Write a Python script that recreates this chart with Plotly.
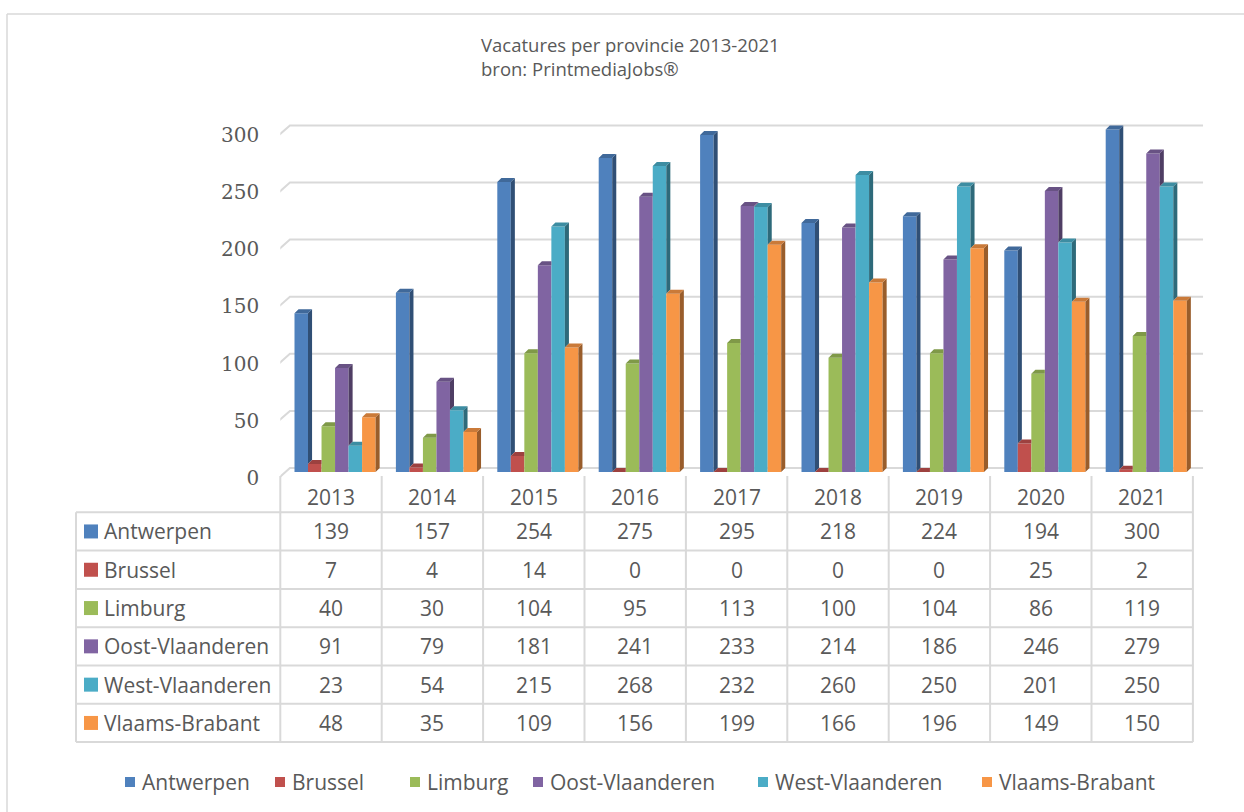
import plotly.graph_objects as go

# ---------------- data ----------------
years = ["2013", "2014", "2015", "2016", "2017", "2018", "2019", "2020", "2021"]
provinces = ["Antwerpen", "Brussel", "Limburg", "Oost-Vlaanderen", "West-Vlaanderen", "Vlaams-Brabant"]
antwerpen = [139, 157, 254, 275, 295, 218, 224, 194, 300]
brussel = [7, 4, 14, 0, 0, 0, 0, 25, 2]
limburg = [40, 30, 104, 95, 113, 100, 104, 86, 119]
oost_vlaanderen = [91, 79, 181, 241, 233, 214, 186, 246, 279]
west_vlaanderen = [23, 54, 215, 268, 232, 260, 250, 201, 250]
vlaams_brabant = [48, 35, 109, 156, 199, 166, 196, 149, 150]
y_ticks = [0, 50, 100, 150, 200, 250, 300]
title_lines = ["Vacatures per provincie 2013-2021", "bron: PrintmediaJobs®"]

series = [antwerpen, brussel, limburg, oost_vlaanderen, west_vlaanderen, vlaams_brabant]
colors = ["#4F81BD", "#C0504D", "#9BBB59", "#8064A2", "#4BACC6", "#F79646"]

# ---------------- geometry / style ----------------
W, H = 1244, 812
TEXT = "#595959"
GRID = "#D9D9D9"
X_RANGE = [-0.5, 8.62]
Y_RANGE = [-20, 330]
PX_LEFT, PX_PER_CAT = 280.3, 101.4
PX_ZERO, PX_PER_UNIT = 472.0, 1.142

x_dom = [PX_LEFT / W, (PX_LEFT + (X_RANGE[1] - X_RANGE[0]) * PX_PER_CAT) / W]
y_bot_px = PX_ZERO - Y_RANGE[0] * PX_PER_UNIT
y_top_px = PX_ZERO - Y_RANGE[1] * PX_PER_UNIT
y_dom = [1 - y_bot_px / H, 1 - y_top_px / H]

GROUP_START = -0.36
BAR_W = 0.1333
DX = 0.04   # depth in category units
DY = 3.5    # depth in value units

# legend key positions (px from left) along the bottom row
LEGEND_KEY_PX = [125, 275, 410, 533, 758, 982]
LEGEND_Y_PX = 782


def shade(hexcol, f):
    r, g, b = int(hexcol[1:3], 16), int(hexcol[3:5], 16), int(hexcol[5:7], 16)
    return "#%02x%02x%02x" % (int(r * f), int(g * f), int(b * f))


def px_x(p):
    return p / W


def px_y(p):
    return 1 - p / H


fig = go.Figure()

n = len(series)
for i, (name, vals, col) in enumerate(zip(provinces, series, colors)):
    off = GROUP_START + i * BAR_W
    fig.add_trace(go.Bar(
        x=list(range(len(years))), y=vals, name=name,
        offset=off, width=BAR_W,
        marker=dict(color=col, line=dict(width=0)),
        hoverinfo="skip", showlegend=False,
    ))
    sx, sy = [], []
    cx, cy = [], []
    for j, v in enumerate(vals):
        vn = series[i + 1][j] if i < n - 1 else 0
        xl = j + off
        xr = xl + BAR_W
        if v > vn:
            sx += [xr, xr, xr + DX, xr + DX, xr, None]
            sy += [vn, v, v + DY, vn + DY, vn, None]
        right = xr if (i < n - 1 and vn >= v + DY) else xr + DX
        cx += [xl, xl + DX, right, xr, xl, None]
        cy += [v, v + DY, v + DY, v, v, None]
    fig.add_trace(go.Scatter(x=sx, y=sy, mode="lines", fill="toself",
                             fillcolor=shade(col, 0.62), line=dict(width=0),
                             showlegend=False, hoverinfo="skip"))
    fig.add_trace(go.Scatter(x=cx, y=cy, mode="lines", fill="toself",
                             fillcolor=shade(col, 0.82), line=dict(width=0),
                             showlegend=False, hoverinfo="skip"))

shapes = []
for t in y_ticks:
    shapes.append(dict(type="path", xref="x", yref="y", layer="below",
                       path=f"M -0.513,{t - 5} L -0.405,{t + DY} L 8.6,{t + DY}",
                       line=dict(color=GRID, width=2)))

# ---------------- data table ----------------
TABLE_LEFT_PX = 76
ROW_TOP_PX = 512.3
ROW_H = 38.3
HEADER_TOP_PX = 476
n_rows = len(provinces)
table_bottom_px = ROW_TOP_PX + n_rows * ROW_H
right_px = PX_LEFT + len(years) * PX_PER_CAT

for k in range(n_rows + 1):
    yk = px_y(ROW_TOP_PX + k * ROW_H)
    shapes.append(dict(type="line", xref="paper", yref="paper",
                       x0=px_x(TABLE_LEFT_PX), x1=px_x(right_px), y0=yk, y1=yk,
                       line=dict(color=GRID, width=2)))
shapes.append(dict(type="line", xref="paper", yref="paper",
                   x0=px_x(TABLE_LEFT_PX), x1=px_x(TABLE_LEFT_PX),
                   y0=px_y(ROW_TOP_PX), y1=px_y(table_bottom_px),
                   line=dict(color=GRID, width=2)))
for k in range(len(years) + 1):
    xk = px_x(PX_LEFT + k * PX_PER_CAT)
    shapes.append(dict(type="line", xref="paper", yref="paper",
                       x0=xk, x1=xk, y0=px_y(HEADER_TOP_PX), y1=px_y(table_bottom_px),
                       line=dict(color=GRID, width=2)))

annotations = []
TFONT = dict(family="Open Sans", size=21, color=TEXT)
header_y = px_y((HEADER_TOP_PX + ROW_TOP_PX) / 2 + 3)
for j, yr in enumerate(years):
    annotations.append(dict(x=j, y=header_y, xref="x", yref="paper", text=yr,
                            showarrow=False, font=TFONT, xanchor="center", yanchor="middle"))
for r, (name, vals, col) in enumerate(zip(provinces, series, colors)):
    cyp = ROW_TOP_PX + (r + 0.5) * ROW_H
    shapes.append(dict(type="rect", xref="paper", yref="paper",
                       x0=px_x(84), x1=px_x(98), y0=px_y(cyp - 7), y1=px_y(cyp + 7),
                       fillcolor=col, line=dict(width=0)))
    annotations.append(dict(x=px_x(102), y=px_y(cyp), xref="paper", yref="paper", text=name,
                            showarrow=False, font=TFONT, xanchor="left", yanchor="middle"))
    for j, v in enumerate(vals):
        annotations.append(dict(x=j, y=px_y(cyp), xref="x", yref="paper", text=str(v),
                                showarrow=False, font=TFONT, xanchor="center", yanchor="middle"))

# ---------------- legend (bottom row) ----------------
for name, col, kx in zip(provinces, colors, LEGEND_KEY_PX):
    shapes.append(dict(type="rect", xref="paper", yref="paper",
                       x0=px_x(kx), x1=px_x(kx + 10),
                       y0=px_y(LEGEND_Y_PX - 5), y1=px_y(LEGEND_Y_PX + 5),
                       fillcolor=col, line=dict(width=0)))
    annotations.append(dict(x=px_x(kx + 15), y=px_y(LEGEND_Y_PX), xref="paper", yref="paper",
                            text=name, showarrow=False, xanchor="left", yanchor="middle",
                            font=dict(family="Open Sans", size=21, color=TEXT)))

# title
for txt, ypx in zip(title_lines, [45, 68]):
    annotations.append(dict(x=px_x(479), y=px_y(ypx), xref="paper", yref="paper", text=txt,
                            showarrow=False, xanchor="left", yanchor="middle",
                            font=dict(family="Open Sans", size=18.5, color=TEXT)))

# chart border (top and left)
shapes.append(dict(type="line", xref="paper", yref="paper", x0=px_x(7), x1=1, y0=px_y(14), y1=px_y(14),
                   line=dict(color=GRID, width=1.5)))
shapes.append(dict(type="line", xref="paper", yref="paper", x0=px_x(7), x1=px_x(7), y0=px_y(14), y1=0,
                   line=dict(color=GRID, width=1.5)))

fig.update_layout(
    width=W, height=H, autosize=False,
    margin=dict(l=0, r=0, t=0, b=0),
    paper_bgcolor="white", plot_bgcolor="white",
    barmode="overlay",
    showlegend=False,
    xaxis=dict(domain=x_dom, range=X_RANGE, showgrid=False, zeroline=False, showline=False,
               showticklabels=False, ticks=""),
    yaxis=dict(domain=y_dom, range=Y_RANGE, showgrid=False, zeroline=False, showline=False,
               tickmode="array", tickvals=[t - 5 for t in y_ticks], ticktext=[str(t) for t in y_ticks],
               ticks="outside", ticklen=16, tickcolor="rgba(0,0,0,0)",
               tickfont=dict(family="DejaVu Serif", size=20, color=TEXT)),
    shapes=shapes,
    annotations=annotations,
)

fig.write_html("out.html", config={"displayModeBar": False},
               post_script="document.body.style.margin='0';")
